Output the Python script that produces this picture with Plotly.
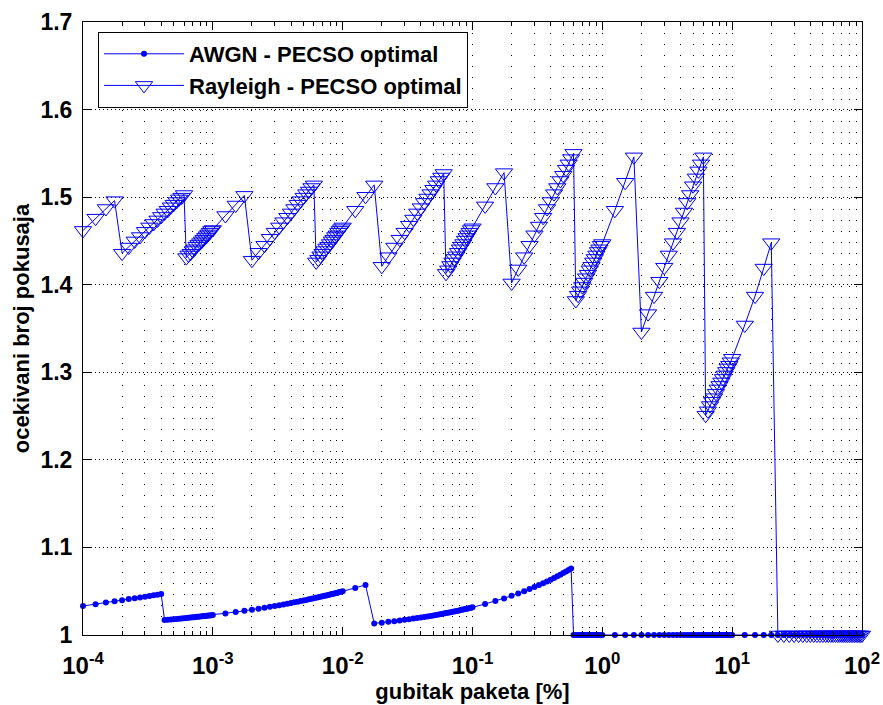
import plotly.graph_objects as go

# ---- x grid: mantissas within each decade (0.25 steps) ----
MANTISSAS = [1, 1.25, 1.5, 1.75, 2, 2.25, 2.5, 2.75, 3, 3.25, 3.5, 3.75, 4, 4.25, 4.5, 4.75,
             5, 5.25, 5.5, 5.75, 6, 6.25, 6.5, 6.75, 7, 7.25, 7.5, 7.75, 8, 8.25, 8.5, 8.75,
             9, 9.25, 9.5, 9.75]
DECADES = [1e-4, 1e-3, 1e-2, 1e-1, 1e0, 1e1]
X_LAST = [100]

# ---- AWGN - PECSO optimal (segments) ----
AWGN_1 = [1.0331, 1.0352, 1.0370, 1.0385, 1.0398, 1.0410, 1.0420, 1.0429, 1.0438, 1.0446,
          1.0453, 1.0460, 1.0467]
AWGN_2 = [1.0170, 1.0174, 1.0177, 1.0180, 1.0183, 1.0186, 1.0189, 1.0192, 1.0194, 1.0197,
          1.0199, 1.0202, 1.0204, 1.0207, 1.0209, 1.0211, 1.0214, 1.0216, 1.0218, 1.0220,
          1.0222, 1.0224, 1.0226,
          1.0228, 1.0246, 1.0262, 1.0276, 1.0289, 1.0300, 1.0311, 1.0322, 1.0331, 1.0340,
          1.0349, 1.0357, 1.0365, 1.0373, 1.0380, 1.0387, 1.0394, 1.0401, 1.0407, 1.0413,
          1.0419, 1.0425, 1.0431, 1.0436, 1.0442, 1.0447, 1.0452, 1.0457, 1.0462, 1.0467,
          1.0472, 1.0477, 1.0481, 1.0486, 1.0490, 1.0494,
          1.0499, 1.0538, 1.0572]
AWGN_3 = [1.0132, 1.0141, 1.0150, 1.0158, 1.0166, 1.0173, 1.0180, 1.0187, 1.0194, 1.0200,
          1.0206, 1.0212, 1.0218, 1.0224, 1.0229, 1.0235, 1.0240, 1.0245, 1.0250, 1.0255,
          1.0260, 1.0265, 1.0269, 1.0274, 1.0278, 1.0283, 1.0287, 1.0292, 1.0296, 1.0300,
          1.0304, 1.0308, 1.0312,
          1.0316, 1.0354, 1.0387, 1.0418, 1.0447, 1.0474, 1.0500, 1.0524, 1.0548, 1.0570,
          1.0592, 1.0612, 1.0632, 1.0652, 1.0671, 1.0689, 1.0707, 1.0725, 1.0742, 1.0758]
AWGN_4 = [1.0, 1.0, 1.0, 1.0, 1.0, 1.0, 1.0, 1.0, 1.0, 1.0, 1.0, 1.0, 1.0, 1.0, 1.0, 1.0,
          1.0, 1.0, 1.0, 1.0, 1.0, 1.0, 1.0, 1.0, 1.0, 1.0, 1.0, 1.0, 1.0, 1.0, 1.0, 1.0,
          1.0, 1.0, 1.0, 1.0, 1.0, 1.0, 1.0, 1.0, 1.0, 1.0, 1.0, 1.0, 1.0, 1.0, 1.0, 1.0,
          1.0, 1.0, 1.0, 1.0, 1.0, 1.0, 1.0, 1.0, 1.0, 1.0, 1.0, 1.0, 1.0, 1.0, 1.0, 1.0,
          1.0, 1.0, 1.0, 1.0, 1.0, 1.0, 1.0, 1.0, 1.0, 1.0, 1.0, 1.0, 1.0, 1.0, 1.0, 1.0,
          1.0, 1.0, 1.0, 1.0, 1.0, 1.0, 1.0, 1.0, 1.0]

# ---- Rayleigh - PECSO optimal (segments) ----
RAY_1 = [1.462, 1.476, 1.487, 1.496]
RAY_2 = [1.436, 1.443, 1.450, 1.455, 1.461, 1.466, 1.470, 1.474, 1.478, 1.482, 1.485, 1.489,
         1.492, 1.495, 1.498, 1.500, 1.503]
RAY_3 = [1.431, 1.434, 1.436, 1.439, 1.441, 1.444, 1.446, 1.448, 1.450, 1.452, 1.454, 1.456,
         1.458, 1.460, 1.462, 1.463, 1.479, 1.491, 1.502]
RAY_4 = [1.428, 1.437, 1.445, 1.453, 1.460, 1.466, 1.472, 1.477, 1.482, 1.487, 1.492, 1.496,
         1.500, 1.504, 1.507, 1.511, 1.514]
RAY_5 = [1.426, 1.429, 1.433, 1.436, 1.439, 1.442, 1.444, 1.447, 1.450, 1.452, 1.455, 1.457,
         1.460, 1.462, 1.464, 1.466, 1.485, 1.501, 1.514]
RAY_6 = [1.421, 1.432, 1.443, 1.452, 1.460, 1.468, 1.475, 1.482, 1.488, 1.494, 1.499, 1.504,
         1.509, 1.514, 1.519, 1.523, 1.527]
RAY_7 = [1.413, 1.417, 1.422, 1.426, 1.430, 1.433, 1.437, 1.441, 1.444, 1.447, 1.451, 1.454,
         1.457, 1.460, 1.463, 1.465, 1.490, 1.511, 1.528]
RAY_8 = [1.402, 1.418, 1.432, 1.445, 1.457, 1.467, 1.477, 1.487, 1.495, 1.504, 1.511, 1.519,
         1.525, 1.532, 1.538, 1.544, 1.550]
RAY_9 = [1.382, 1.388, 1.393, 1.398, 1.403, 1.408, 1.412, 1.417, 1.421, 1.426, 1.430, 1.434,
         1.438, 1.441, 1.445, 1.447, 1.485, 1.517, 1.546]
RAY_10 = [1.346, 1.367, 1.387, 1.404, 1.420, 1.434, 1.448, 1.460, 1.472, 1.483, 1.494, 1.503,
          1.513, 1.522, 1.530, 1.538, 1.546]
RAY_11 = [1.251, 1.256, 1.262, 1.267, 1.271, 1.276, 1.281, 1.285, 1.289, 1.293, 1.297, 1.301,
          1.305, 1.308, 1.312, 1.316, 1.354, 1.387, 1.419, 1.448]
RAY_12 = [1.0, 1.0, 1.0, 1.0, 1.0, 1.0, 1.0, 1.0, 1.0, 1.0, 1.0, 1.0, 1.0, 1.0, 1.0, 1.0,
          1.0, 1.0, 1.0, 1.0, 1.0, 1.0, 1.0, 1.0, 1.0, 1.0, 1.0, 1.0, 1.0, 1.0, 1.0, 1.0]

X_TICKVALS = [1e-4, 1e-3, 1e-2, 1e-1, 1e0, 1e1, 1e2]
X_TICKTEXT = ["10<sup>-4</sup>", "10<sup>-3</sup>", "10<sup>-2</sup>", "10<sup>-1</sup>",
              "10<sup>0</sup>", "10<sup>1</sup>", "10<sup>2</sup>"]
Y_TICKVALS = [1, 1.1, 1.2, 1.3, 1.4, 1.5, 1.6, 1.7]
Y_TICKTEXT = ["1", "1.1", "1.2", "1.3", "1.4", "1.5", "1.6", "1.7"]

x = [round(m * d, 10) for d in DECADES for m in MANTISSAS] + X_LAST
y_awgn = AWGN_1 + AWGN_2 + AWGN_3 + AWGN_4
y_ray = (RAY_1 + RAY_2 + RAY_3 + RAY_4 + RAY_5 + RAY_6 + RAY_7 + RAY_8 + RAY_9 + RAY_10
         + RAY_11 + RAY_12)
assert len(x) == len(y_awgn) == len(y_ray), (len(x), len(y_awgn), len(y_ray))

BLUE = "rgb(0,0,255)"
FONT = "Liberation Sans, Arial, Helvetica, sans-serif"

fig = go.Figure()
fig.add_trace(go.Scatter(
    x=x, y=y_awgn, mode="lines+markers", name="AWGN - PECSO optimal",
    line=dict(color=BLUE, width=1),
    marker=dict(symbol="circle", size=6, color=BLUE),
    cliponaxis=False,
))
fig.add_trace(go.Scatter(
    x=x, y=y_ray, mode="lines+markers", name="Rayleigh - PECSO optimal",
    line=dict(color=BLUE, width=1),
    marker=dict(symbol="triangle-down-open", size=15, color=BLUE, line=dict(color=BLUE, width=1)),
    cliponaxis=False,
))

fig.update_layout(
    width=883, height=705,
    margin=dict(l=83, r=21, t=22, b=70),
    paper_bgcolor="white", plot_bgcolor="white",
    font=dict(family=FONT, size=22, color="black", weight="bold"),
    showlegend=True,
    legend=dict(
        x=15 / 779, y=603 / 613, xanchor="left", yanchor="top",
        bgcolor="white", bordercolor="black", borderwidth=1,
        font=dict(family=FONT, size=22, color="black", weight="bold"),
        itemwidth=80, tracegroupgap=0,
    ),
    xaxis=dict(
        type="log", range=[-4, 2], automargin=False,
        tickmode="array", tickvals=X_TICKVALS, ticktext=X_TICKTEXT,
        ticks="inside", ticklen=8, tickwidth=1, tickcolor="black",
        ticklabelstandoff=9,
        showline=True, linecolor="black", linewidth=1, mirror="ticks",
        showgrid=True, gridcolor="black", gridwidth=1, griddash="1px,10px",
        zeroline=False,
        minor=dict(dtick="D1", ticks="inside", ticklen=4, tickcolor="black", tickwidth=1,
                   showgrid=True, gridcolor="black", gridwidth=1, griddash="1px,10px"),
        tickfont=dict(family=FONT, size=24, color="black", weight="bold"),
        title=dict(text="gubitak paketa [%]", standoff=4,
                   font=dict(family=FONT, size=22, color="black", weight="bold")),
    ),
    yaxis=dict(
        range=[1, 1.7], automargin=False,
        tickmode="array", tickvals=Y_TICKVALS, ticktext=Y_TICKTEXT,
        ticks="inside", ticklen=8, tickwidth=1, tickcolor="black",
        ticklabelstandoff=5,
        showline=True, linecolor="black", linewidth=1, mirror="ticks",
        showgrid=True, gridcolor="black", gridwidth=1, griddash="1px,3px",
        zeroline=False,
        tickfont=dict(family=FONT, size=23, color="black", weight="bold"),
        title=dict(text="ocekivani broj pokusaja", standoff=4,
                   font=dict(family=FONT, size=22, color="black", weight="bold")),
    ),
)

fig.write_html("out.html", config={"displayModeBar": False},
               post_script="document.body.style.margin='0';")
